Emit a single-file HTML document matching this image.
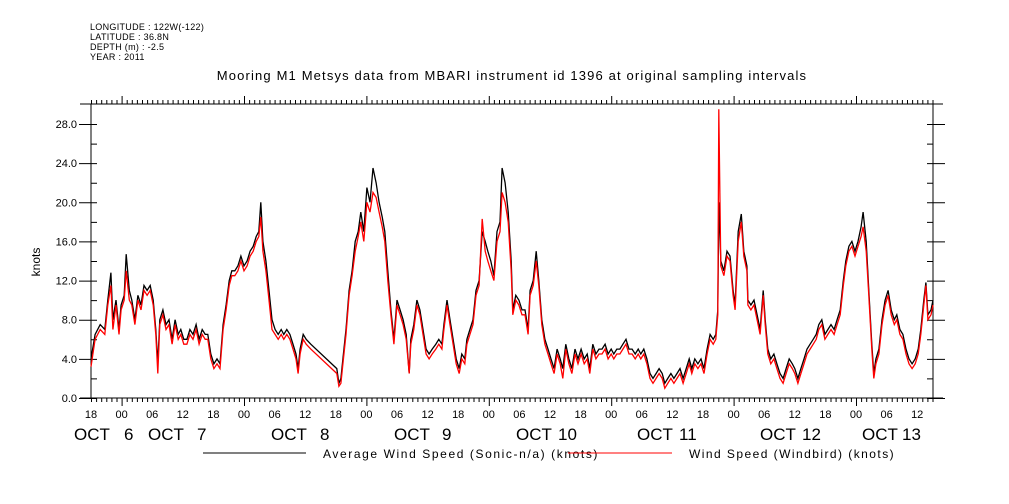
<!DOCTYPE html>
<html><head><meta charset="utf-8"><style>
html,body{margin:0;padding:0;background:#fff;}
svg{display:block;font-family:"Liberation Sans",sans-serif;}
</style></head><body>
<svg id="chart" width="1009" height="504" viewBox="0 0 1009 504">
<g font-size="9" fill="#000" letter-spacing="0.3">
<text x="90" y="30">LONGITUDE : 122W(-122)</text>
<text x="90" y="40">LATITUDE : 36.8N</text>
<text x="90" y="50">DEPTH (m) : -2.5</text>
<text x="90" y="60">YEAR : 2011</text>
</g>
<text x="512" y="80" font-size="13" text-anchor="middle" letter-spacing="1.15">Mooring M1 Metsys data from MBARI instrument id 1396 at original sampling intervals</text>
<text x="40" y="262" font-size="12" text-anchor="middle" transform="rotate(-90 40 262)">knots</text>
<g id="axes"></g>
<g id="series"></g>
<g font-size="17" fill="#000">
<text x="74" y="440">OCT</text><text x="124" y="440">6</text>
<text x="148" y="440">OCT</text><text x="197" y="440">7</text>
<text x="271" y="440">OCT</text><text x="320" y="440">8</text>
<text x="394" y="440">OCT</text><text x="442" y="440">9</text>
<text x="516" y="440">OCT</text><text x="558" y="440">10</text>
<text x="637" y="440">OCT</text><text x="679" y="440">11</text>
<text x="760" y="440">OCT</text><text x="802" y="440">12</text>
<text x="862" y="440">OCT</text><text x="902" y="440">13</text>
</g>
<g>
<line x1="203" y1="453" x2="306" y2="453" stroke="#000" stroke-width="1"/>
<text x="323" y="458" font-size="12" letter-spacing="1.6">Average Wind Speed (Sonic-n/a) (knots)</text>
<line x1="568" y1="453" x2="672" y2="453" stroke="#f00" stroke-width="1"/>
<text x="689" y="458" font-size="12" letter-spacing="1.45">Wind Speed (Windbird) (knots)</text>
</g>
</svg>
<script>
const hours=[0,0.8,1.8,2.7,3.3,3.9,4.3,4.9,5.5,5.9,6.5,6.9,7.5,8.0,8.6,9.2,9.8,10.4,11.0,11.6,12.2,12.7,13.1,13.5,14.1,14.7,15.3,15.9,16.5,17.1,17.6,18.2,18.8,19.4,20.0,20.6,21.2,21.8,22.4,22.9,23.5,24.1,24.7,25.3,25.9,26.5,27.1,27.6,28.2,28.8,29.4,30.0,30.6,31.2,31.8,32.4,32.9,33.3,33.7,34.3,34.9,35.5,36.1,36.7,37.3,37.8,38.4,39.0,39.6,40.2,40.6,41.0,41.6,42.2,43.1,48.2,48.6,49.0,49.4,50.0,50.6,51.2,51.8,52.4,52.9,53.5,54.1,54.7,55.3,55.9,56.5,57.1,57.6,58.2,58.8,59.4,60.0,60.6,61.2,61.8,62.4,62.7,63.3,63.9,64.5,65.1,65.7,66.3,66.9,67.6,68.2,68.8,69.2,69.8,70.4,71.0,71.6,72.2,72.7,73.3,73.7,74.3,74.9,75.5,76.1,76.7,77.3,77.8,78.4,79.0,79.6,80.2,80.6,81.2,81.8,82.4,82.7,83.3,83.9,84.5,85.1,85.7,86.1,86.7,87.3,87.8,88.4,89.0,89.6,90.2,90.8,91.4,92.0,92.5,93.1,93.7,94.3,94.9,95.5,96.1,96.7,97.3,97.8,98.4,99.0,99.6,100.2,100.8,101.4,102.0,102.5,103.1,103.7,104.3,104.9,105.5,106.1,106.7,107.3,107.8,108.4,109.0,109.6,110.2,110.8,111.4,112.0,112.5,113.1,113.7,114.3,114.9,115.5,116.1,116.7,117.3,117.8,118.4,119.0,119.6,120.2,120.8,121.4,122.0,122.5,122.9,123.1,123.5,124.1,124.7,125.3,125.9,126.3,126.9,127.5,128.0,128.6,128.8,129.4,130.0,130.6,131.2,131.8,132.2,132.7,133.3,133.9,134.5,135.1,135.7,136.3,136.9,137.5,138.0,138.6,139.2,139.8,140.4,141.0,141.6,142.2,142.7,143.3,143.9,144.5,145.1,145.7,146.3,146.9,147.5,148.0,148.6,149.2,149.8,150.4,151.0,151.4,152.0,152.5,153.1,153.5,153.9,154.5,155.1,155.7,156.3,156.9,157.5,158.0,158.6,159.2,159.8,160.4,161.0,161.6,162.2,162.7,163.3,163.7,164.1,164.7,165.1];
const avgSpeed=[4,6.5,7.5,7,10,12.8,8,10,7,9.5,10.5,14.7,11,10,8,10.5,9.5,11.5,11,11.5,10,7,3.5,8,9,7.5,8,6,8,6.5,7,6,6,7,6.5,7.5,6,7,6.5,6.5,4.5,3.5,4,3.5,7.5,9.5,12,13,13,13.5,14.5,13.5,14,15,15.5,16.5,17,20,16,14,11,8,7,6.5,7,6.5,7,6.5,5.5,4.5,3,5,6.5,6,5.5,3,1.5,2,4,7,11,13,16,17,19,17,21.5,20,23.5,22,20,18.5,17,13,9,6,10,9,8,6.5,2.5,6,7.5,10,9,7,5,4.5,5,5.5,6,5.5,7.5,10,8,6,4,3,4.5,4,6,7,8,11,12,17,16,15,14,12.5,17,18,23.5,22,19,14,9,10.5,10,9,9,7,11,12,15,12,8,6,5,4,3,5,4,3,5.5,4,3,5,4,5,4,4.5,3,5.5,4.5,5,5,5.5,4.5,5,4.5,5,5,5.5,6,5,5,4.5,5,4.5,5,4,2.5,2,2.5,3,2.5,1.5,2,2.5,2,2.5,3,2,3,4,3,4,3.5,4,3,5,6.5,6,6.5,9,20,14,13,15,14.5,11,9.5,17,18.8,15,13.5,10,9.5,10,8.5,7,11,8,5,4,4.5,3.5,2.5,2,3,4,3.5,3,2,3,4,5,5.5,6,6.5,7.5,8,6.5,7,7.5,7,8,9,12,14,15.5,16,15,16,17.5,19,16,11,5.5,2.5,4,5,8,10,11,9,8,8.5,7,6.5,5,4,3.5,4,5,7,10,11.8,8.5,9,10];
const windbird=[3.2,6,7,6.5,9.5,11.5,7,9.5,6.5,9,10,13,10,9.5,7.5,10,9,11,10.5,11,9.5,6.5,2.5,7.5,8.5,7,7.5,5.5,7.5,6,6.5,5.5,5.5,6.5,6,7,5.5,6.5,6,6,4,3,3.5,3,7,9,11.5,12.5,12.5,13,14,13,13.5,14.5,15,16,16.5,18.5,15,13,10,7,6.5,6,6.5,6,6.5,6,5,4,2.5,4.5,6,5.5,5,2.5,1.2,1.5,3.5,6.5,10.5,12.5,15,16.5,18,16,20,19,21,20.5,19,17.5,16,12,8.5,5.5,9.5,8.5,7.5,6,2.5,5.5,7,9.5,8.5,6.5,4.5,4,4.5,5,5.5,5,7,9.5,7.5,5.5,3.5,2.5,4,3.5,5.5,6.5,7.5,10.5,11.5,18.3,15,14,13,12,16,17,21,20,18,13,8.5,10,9.5,8.5,8.5,6.5,10.5,11.5,14,11.5,7.5,5.5,4.5,3.5,2.5,4.5,3.5,2,5,3.5,2.5,4.5,3.5,4.5,3.5,4,2.5,5,4,4.5,4.5,5,4,4.5,4,4.5,4.5,5,5.5,4.5,4.5,4,4.5,4,4.5,3.5,2,1.5,2,2.5,2,1,1.5,2,1.5,2,2.5,1.5,2.5,3.5,2.5,3.5,3,3.5,2.5,4.5,6,5.5,6,8.5,29.5,13.5,12.5,14.5,14,10.5,9,16,18,14.5,13,9.5,9,9.5,8,6.5,10.5,7.5,4.5,3.5,4,3,2,1.5,2.5,3.5,3,2.5,1.5,2.5,3.5,4.5,5,5.5,6,7,7.5,6,6.5,7,6.5,7.5,8.5,11.5,13.5,15,15.5,14.5,15.5,16.5,17.5,15,10.5,5,2,3.5,4.5,7.5,9.5,10.5,8.5,7.5,8,6.5,6,4.5,3.5,3,3.5,4.5,6.5,9.5,11.5,8,8.5,9.5];
const yTickValues=[0,4,8,12,16,20,24,28];
const yTickLabels=["0.0","4.0","8.0","12.0","16.0","20.0","24.0","28.0"];
const hourLabels=["18","00","06","12"];

const NS="http://www.w3.org/2000/svg";
const X0=91,X1=933,Y0=398,YT=104;
const PXH=5.1, PXV=(398-124)/28;
function xs(h){return X0+h*PXH;}
function ys(v){return Y0-v*PXV;}
function mk(tag,attrs,parent){const e=document.createElementNS(NS,tag);for(const k in attrs)e.setAttribute(k,attrs[k]);parent.appendChild(e);return e;}
const axes=document.getElementById('axes');
const series=document.getElementById('series');
let d="";
d+=`M80 ${Y0}H943M80 ${YT}H943M${X0} ${YT}V${Y0}M${X1} ${YT}V${Y0}`;
for(let h=0;h<=165;h++){
  const x=xs(h)+0.5;
  const major=((h+18)%24===0);
  d+=`M${x} ${Y0}v${major?8:4}M${x} ${YT}v${major?-8:-4}`;
}
for(let v=0;v<=28;v+=2){
  const y=ys(v)+0.5;
  d+=`M${X0} ${y}h6M${X1} ${y}h-6`;
}
for(let i=0;i<yTickValues.length;i++){
  const y=ys(yTickValues[i])+0.5;
  d+=`M${X0-12} ${y}h12M${X1} ${y}h12`;
}
const axisPath=mk('path',{d:d,stroke:'#000','stroke-width':1,fill:'none'},axes);


for(let i=0;i<yTickValues.length;i++){
  const t=mk('text',{x:77,y:ys(yTickValues[i])+4,'font-size':11,'text-anchor':'end'},axes);
  t.textContent=yTickLabels[i];
  
  
}
for(let h=0,i=0;h<=162;h+=6,i++){
  const t=mk('text',{x:xs(h),y:418,'font-size':11,'text-anchor':'middle'},axes);
  t.textContent=hourLabels[i%4];
  
  
}
function line(vals,color,name){
  let p="";
  for(let i=0;i<hours.length;i++){p+=(i?"L":"M")+xs(hours[i]).toFixed(1)+" "+ys(vals[i]).toFixed(1);}
  const e=mk('path',{d:p,stroke:color,'stroke-width':1.3,fill:'none','stroke-linejoin':'miter'},series);
  
  
}
line(avgSpeed,'#000','series-average-wind-speed');
line(windbird,'#f00','series-windbird-wind-speed');
</script>
</body></html>
